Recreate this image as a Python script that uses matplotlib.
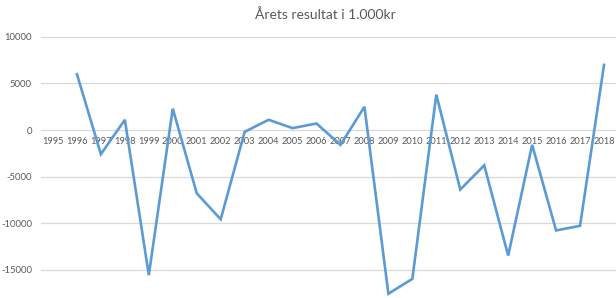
import matplotlib.pyplot as plt

# data (1000 kr)
years = list(range(1995, 2019))
result = [None, 6000, -2600, 1100, -15600, 2300, -6800, -9600, -200, 1100,
          200, 700, -1600, 2500, -17600, -16000, 3800, -6400, -3800, -13500,
          -1600, -10800, -10300, 7000]
yticks = [-15000, -10000, -5000, 0, 5000, 10000]
title = 'Årets resultat i 1.000kr'

plt.rcParams['font.family'] = ['Lato', 'DejaVu Sans']

fig = plt.figure(figsize=(6.16, 2.98), dpi=100)
ax = fig.add_axes([41 / 616, 0, 575 / 616, 1])

xs = [y for y, v in zip(years, result) if v is not None]
vs = [v for v in result if v is not None]
ax.plot(xs, vs, color='#5b9bd5', lw=1.9, solid_joinstyle='miter', zorder=3)

ax.set_xlim(1994.5, 2018.5)
ax.set_ylim(-18060, 13975)
ax.set_yticks(yticks)
ax.set_yticklabels([str(t) for t in yticks])
ax.set_xticks(years)
ax.set_xticklabels([str(y) for y in years])

ax.grid(axis='y', color='#d9d9d9', lw=0.9)
ax.set_axisbelow(True)
for s in ax.spines.values():
    s.set_visible(False)
ax.spines['bottom'].set_position(('data', 0))

ax.tick_params(axis='y', length=0, pad=6.5, labelsize=6.8, labelcolor='#595959')
ax.tick_params(axis='x', length=0, pad=5, labelsize=6.7, labelcolor='#595959')

fig.text(325 / 616, 1 - 15 / 298, title, ha='center', va='center',
         fontsize=10, color='#595959')

fig.savefig('out.png', dpi=100)
